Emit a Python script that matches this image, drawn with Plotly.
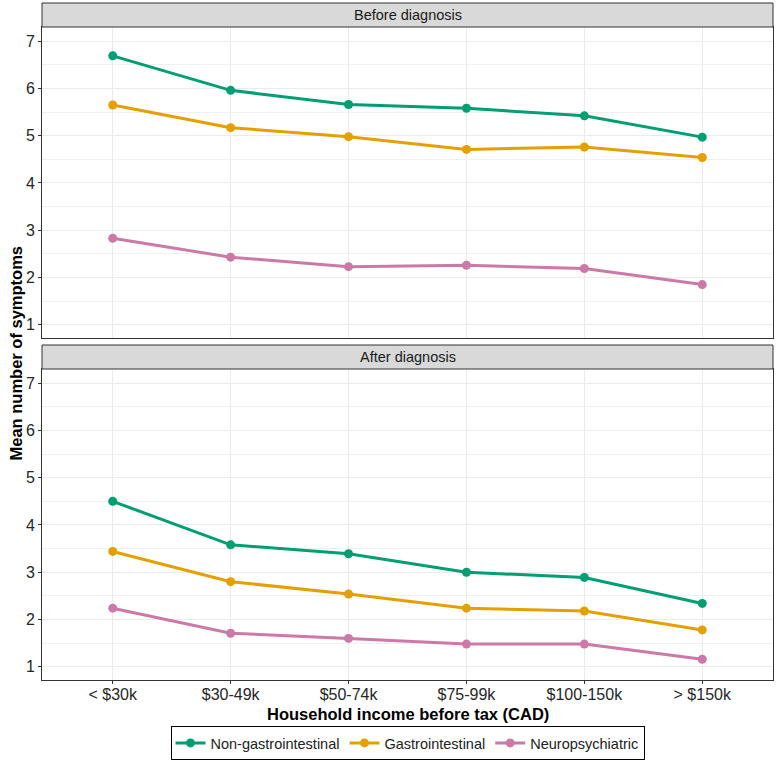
import plotly.graph_objects as go

categories = ["< $30k", "$30-49k", "$50-74k", "$75-99k", "$100-150k", "> $150k"]
series_names = ["Non-gastrointestinal", "Gastrointestinal", "Neuropsychiatric"]
colors = ["#009E73", "#E69F00", "#CC79A7"]

before_nongi = [6.69, 5.96, 5.66, 5.58, 5.42, 4.97]
before_gi = [5.65, 5.17, 4.98, 4.71, 4.76, 4.54]
before_neuro = [2.83, 2.43, 2.23, 2.26, 2.19, 1.85]

after_nongi = [4.50, 3.58, 3.39, 3.00, 2.89, 2.34]
after_gi = [3.44, 2.80, 2.54, 2.24, 2.18, 1.78]
after_neuro = [2.24, 1.71, 1.60, 1.48, 1.48, 1.16]

panels = ["Before diagnosis", "After diagnosis"]
yticks = [1, 2, 3, 4, 5, 6, 7]

W, H = 777, 773
L, R, T, B = 42, 4, 27, 93
ph = H - T - B
FONT = "Liberation Sans, Arial, sans-serif"

def py(pix):
    return (H - B - pix) / ph

fig = go.Figure()
before = [before_nongi, before_gi, before_neuro]
after = [after_nongi, after_gi, after_neuro]
for i, name in enumerate(series_names):
    fig.add_trace(go.Scatter(x=categories, y=before[i], mode="lines+markers", name=name,
                             line=dict(color=colors[i], width=3), marker=dict(color=colors[i], size=9),
                             xaxis="x", yaxis="y", legendgroup=name, showlegend=True))
    fig.add_trace(go.Scatter(x=categories, y=after[i], mode="lines+markers", name=name,
                             line=dict(color=colors[i], width=3), marker=dict(color=colors[i], size=9),
                             xaxis="x2", yaxis="y2", legendgroup=name, showlegend=False))

axis_common = dict(showline=True, linecolor="#333333", linewidth=1, mirror=True,
                   showgrid=True, gridcolor="#EBEBEB", gridwidth=1, zeroline=False)
font_tick = dict(family=FONT, size=16, color="#262626")

ydef = dict(axis_common, range=[0.72, 7.30], tickvals=yticks, ticks="outside", ticklen=3,
            tickcolor="#333333", tickfont=font_tick,
            minor=dict(dtick=0.5, tick0=0.5, showgrid=True, gridcolor="#F0F0F0", gridwidth=0.6))
xdef = dict(axis_common, type="category", categoryorder="array", categoryarray=categories,
            range=[-0.6, 5.6], tickfont=font_tick)

fig.update_layout(
    width=W, height=H,
    margin=dict(l=L, r=R, t=T, b=B),
    plot_bgcolor="white", paper_bgcolor="white",
    xaxis=dict(xdef, anchor="y", showticklabels=False, ticks=""),
    yaxis=dict(ydef, domain=[py(338), 1], anchor="x"),
    xaxis2=dict(xdef, anchor="y2", ticks="outside", ticklen=3, tickcolor="#333333",
                ticklabelstandoff=-3),
    yaxis2=dict(ydef, domain=[0, py(369)], anchor="x2"),
    showlegend=True,
    legend=dict(orientation="h", x=0.5, xanchor="center", y=py(726), yanchor="top",
                bordercolor="#000000", borderwidth=1,
                font=dict(family=FONT, size=14.5, color="#222222"),
                itemwidth=30, tracegroupgap=0),
)

shapes = []
annotations = []
strips = [(3, 27), (345, 369)]
for (top, bot), label in zip(strips, panels):
    shapes.append(dict(type="rect", xref="paper", yref="paper", x0=0, x1=1, y0=py(bot), y1=py(top),
                       fillcolor="#D9D9D9", line=dict(color="#333333", width=1), layer="above"))
    annotations.append(dict(text=label, xref="paper", yref="paper", x=0.5, y=py((top + bot) / 2),
                            xanchor="center", yanchor="middle", showarrow=False,
                            font=dict(family=FONT, size=14.5, color="#1A1A1A")))

annotations.append(dict(text="<b>Household income before tax (CAD)</b>", xref="paper", yref="paper",
                        x=0.5, y=py(714), xanchor="center", yanchor="middle", showarrow=False,
                        font=dict(family=FONT, size=16.5, color="#000000")))
annotations.append(dict(text="<b>Mean number of symptoms</b>", xref="paper", yref="paper",
                        x=(15 - L) / (W - L - R), y=0.5, xanchor="center", yanchor="middle",
                        textangle=-90, showarrow=False,
                        font=dict(family=FONT, size=16.5, color="#000000")))

fig.update_layout(shapes=shapes, annotations=annotations)
fig.write_html("out.html")
